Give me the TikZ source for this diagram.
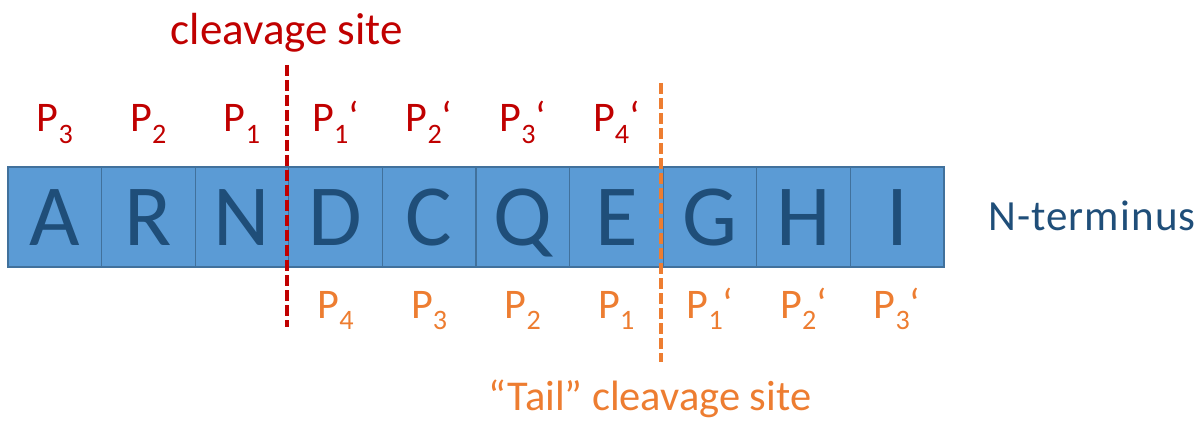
\documentclass[tikz,border=0pt]{standalone}
\usepackage{fontspec}
\setmainfont{Carlito}
\usetikzlibrary{positioning}
\definecolor{aafill}{HTML}{5B9BD5}
\definecolor{aaline}{HTML}{41719C}
\definecolor{aatext}{HTML}{1F4E79}
\definecolor{cutred}{HTML}{C00000}
\definecolor{cutorange}{HTML}{ED7D31}
\newcommand\psub[1]{\raisebox{-0.27em}{\fontsize{20}{20}\selectfont #1}}

\begin{document}
\begin{tikzpicture}[
  aa/.style={draw=aaline, line width=0.9pt, fill=aafill, text=aatext,
    minimum width=2.34cm, minimum height=2.5cm, inner sep=0pt, outer sep=0pt,
    text height=1.425cm, text depth=0pt, font=\fontsize{62}{62}\selectfont},
  upper/.style={text=cutred, inner sep=0pt, font=\fontsize{30}{36}\selectfont},
  lower/.style={text=cutorange, inner sep=0pt, font=\fontsize{30}{36}\selectfont},
  cut/.style={line width=2.8pt, dash pattern=on 0.275cm off 0.1cm}
]
  \useasboundingbox (0,0) rectangle (30.1,10.5);

  \node[aa] (b1) at (1.37,5.075) {A};
  \node[aa] (b2) [right=0pt of b1] {R};
  \node[aa] (b3) [right=0pt of b2] {N};
  \node[aa] (b4) [right=0pt of b3] {D};
  \node[aa] (b5) [right=0pt of b4] {C};
  \node[aa] (b6) [right=0pt of b5] {Q};
  \node[aa] (b7) [right=0pt of b6] {E};
  \node[aa] (b8) [right=0pt of b7] {G};
  \node[aa] (b9) [right=0pt of b8] {H};
  \node[aa] (b10) [right=0pt of b9] {I};
  \node[text=aatext, inner sep=0pt,
    font=\fontsize{30.6}{36}\selectfont\addfontfeature{LetterSpace=2.5}]
    (nterm) [right=1.1cm of b10.east, anchor=base west, yshift=-0.325cm] {N-terminus};

  % primary site
  \node[upper] (u1) [above=0.875cm of b1.north, anchor=base] {P\psub{3}};
  \node[upper] (u2) [above=0.875cm of b2.north, anchor=base] {P\psub{2}};
  \node[upper] (u3) [above=0.875cm of b3.north, anchor=base] {P\psub{1}};
  \node[upper] (u4) [above=0.875cm of b4.north, anchor=base] {P\psub{1}‘};
  \node[upper] (u5) [above=0.875cm of b5.north, anchor=base] {P\psub{2}‘};
  \node[upper] (u6) [above=0.875cm of b6.north, anchor=base] {P\psub{3}‘};
  \node[upper] (u7) [above=0.875cm of b7.north, anchor=base] {P\psub{4}‘};

  % tail site
  \node[lower] (l4) [below=1.275cm of b4.south, anchor=base] {P\psub{4}};
  \node[lower] (l5) [below=1.275cm of b5.south, anchor=base] {P\psub{3}};
  \node[lower] (l6) [below=1.275cm of b6.south, anchor=base] {P\psub{2}};
  \node[lower] (l7) [below=1.275cm of b7.south, anchor=base] {P\psub{1}};
  \node[lower] (l8) [below=1.275cm of b8.south, anchor=base] {P\psub{1}‘};
  \node[lower] (l9) [below=1.275cm of b9.south, anchor=base] {P\psub{2}‘};
  \node[lower] (l10) [below=1.275cm of b10.south, anchor=base] {P\psub{3}‘};

  \coordinate[above=2.55cm of b3.north east, xshift=-0.05cm] (redtop);
  \coordinate[below=1.5cm of b3.south east, xshift=-0.05cm] (redbot);
  \draw[cut, cutred] (redtop) -- (redbot);
  \node[text=cutred, inner sep=0pt, font=\fontsize{32}{38}\selectfont]
    (site) [above=0.5cm of redtop, anchor=base] {cleavage site};

  \coordinate[above=2.1cm of b7.north east, xshift=-0.05cm] (tailtop);
  \coordinate[below=2.375cm of b7.south east, xshift=-0.05cm] (tailbot);
  \draw[cut, cutorange] (tailtop) -- (tailbot);
  \node[text=cutorange, inner sep=0pt, font=\fontsize{30.2}{36}\selectfont]
    (tail) [below=1.2cm of tailbot, anchor=base, xshift=-0.29cm] {“Tail” cleavage site};
\end{tikzpicture}
\end{document}
